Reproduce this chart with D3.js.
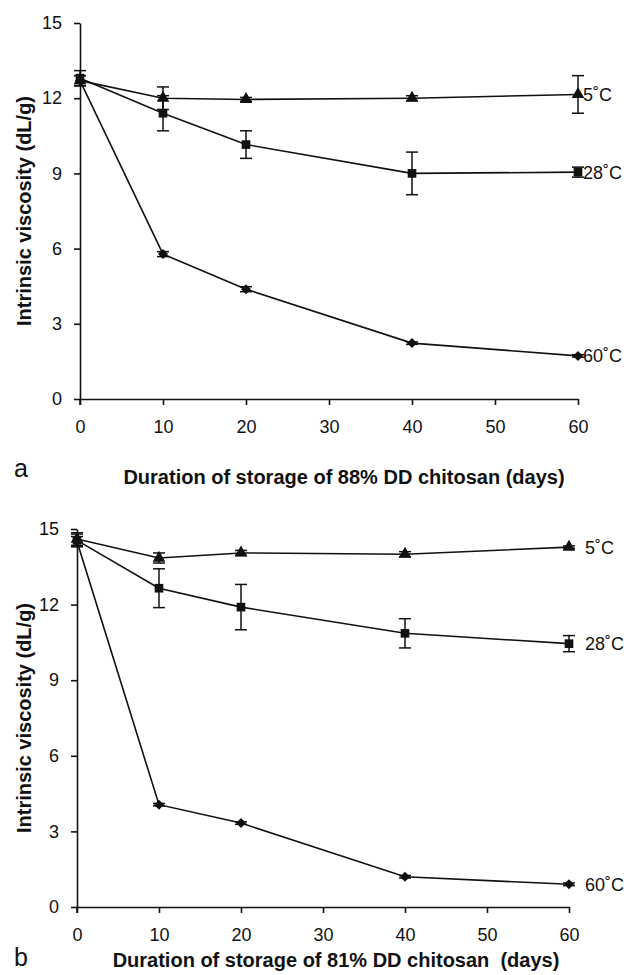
<!DOCTYPE html>
<html>
<head>
<meta charset="utf-8">
<script src="https://cdn.jsdelivr.net/npm/d3@7"></script>
<style>
  body { margin: 0; background: #fff; }
  svg { display: block; font-family: "Liberation Sans", Arial, sans-serif; }
</style>
</head>
<body>
<svg id="chart" width="624" height="975"></svg>
<script>
// storage days and axis ticks
var days = [0, 10, 20, 40, 60];
var xTicks = [0, 10, 20, 30, 40, 50, 60];
var yTicks = [0, 3, 6, 9, 12, 15];
var seriesLabels = ["5˚C", "28˚C", "60˚C"];

// panel a : 88% DD chitosan
var a5 = [12.7, 12.0, 11.95, 12.0, 12.15];
var a5err = [0.2, 0.45, 0.08, 0.1, 0.75];
var a28 = [12.8, 11.4, 10.15, 9.0, 9.05];
var a28err = [0.3, 0.7, 0.55, 0.85, 0.2];
var a60 = [12.7, 5.78, 4.38, 2.23, 1.72];
var a60err = [0.2, 0.1, 0.1, 0.05, 0.05];

// panel b : 81% DD chitosan
var b5 = [14.6, 13.85, 14.05, 14.0, 14.28];
var b5err = [0.25, 0.2, 0.1, 0.1, 0.05];
var b28 = [14.55, 12.65, 11.9, 10.86, 10.45];
var b28err = [0.25, 0.77, 0.9, 0.58, 0.32];
var b60 = [14.5, 4.06, 3.33, 1.2, 0.9];
var b60err = [0.2, 0.05, 0.05, 0.05, 0.05];

var svg = d3.select("#chart");
// triangle, square, diamond (square turned 45 degrees)
var symbols = [d3.symbolTriangle, d3.symbolSquare, d3.symbolSquare];
var symSizes = [70, 75, 50];
var symRotate = [0, 0, 45];

function drawPanel(opt) {
  var x = d3.scaleLinear().domain([0, 60]).range([opt.left, opt.right]);
  var y = d3.scaleLinear().domain([0, 15]).range([opt.bottom, opt.top]);
  var g = svg.append("g");

  // axes
  var xAxis = d3.axisBottom(x).tickValues(xTicks).tickSize(6).tickSizeOuter(0).tickPadding(15);
  var yAxis = d3.axisLeft(y).tickValues(yTicks).tickSize(6).tickSizeOuter(0).tickPadding(12);

  var gx = g.append("g").attr("transform", "translate(0," + opt.bottom + ")").call(xAxis);
  var gy = g.append("g").attr("transform", "translate(" + opt.left + ",0)").call(yAxis);
  [gx, gy].forEach(function(a) {
    a.selectAll("path, line").attr("stroke", "#111").attr("stroke-width", 1.6);
    a.selectAll("text").attr("font-size", 18).attr("fill", "#111")
      .attr("font-family", "'Liberation Sans', Arial, sans-serif");
  });
  // small stub of y axis below the x axis
  g.append("line")
    .attr("x1", opt.left).attr("x2", opt.left)
    .attr("y1", opt.bottom).attr("y2", opt.bottom + 6)
    .attr("stroke", "#111").attr("stroke-width", 1.6);

  var line = d3.line().x(function(d) { return x(d.day); }).y(function(d) { return y(d.v); });

  opt.series.forEach(function(s, i) {
    var pts = days.map(function(d, k) { return { day: d, v: s.values[k], e: s.err[k] }; });

    g.append("path")
      .attr("d", line(pts))
      .attr("fill", "none")
      .attr("stroke", "#111")
      .attr("stroke-width", 1.6);

    // error bars
    var eb = g.selectAll(null).data(pts).enter().append("g");
    eb.append("line")
      .attr("x1", function(d) { return x(d.day); })
      .attr("x2", function(d) { return x(d.day); })
      .attr("y1", function(d) { return y(d.v + d.e); })
      .attr("y2", function(d) { return y(d.v - d.e); })
      .attr("stroke", "#111").attr("stroke-width", 1.5);
    [1, -1].forEach(function(sg) {
      eb.append("line")
        .attr("x1", function(d) { return x(d.day) - 6; })
        .attr("x2", function(d) { return x(d.day) + 6; })
        .attr("y1", function(d) { return y(d.v + sg * d.e); })
        .attr("y2", function(d) { return y(d.v + sg * d.e); })
        .attr("stroke", "#111").attr("stroke-width", 1.5);
    });

    // markers
    g.selectAll(null).data(pts).enter().append("path")
      .attr("d", d3.symbol().type(symbols[i]).size(symSizes[i]))
      .attr("transform", function(d) {
        return "translate(" + x(d.day) + "," + y(d.v) + ") rotate(" + symRotate[i] + ")";
      })
      .attr("fill", "#111");

    // series label at end
    g.append("text")
      .attr("x", x(60) + opt.labelGap)
      .attr("y", y(s.values[s.values.length - 1]))
      .attr("dy", "0.36em")
      .attr("font-size", 18)
      .attr("fill", "#111")
      .text(seriesLabels[i]);
  });

  // axis titles
  g.append("text")
    .attr("transform", "translate(31," + ((opt.top + opt.bottom) / 2) + ") rotate(-90)")
    .attr("text-anchor", "middle")
    .attr("font-size", 20)
    .attr("font-weight", "bold")
    .attr("fill", "#111")
    .text("Intrinsic viscosity (dL/g)");

  g.append("text")
    .attr("x", opt.titleX)
    .attr("y", opt.titleY)
    .attr("text-anchor", "middle")
    .attr("font-size", 20)
    .attr("font-weight", "bold")
    .attr("fill", "#111")
    .style("white-space", "pre")
    .text(opt.title);

  g.append("text")
    .attr("x", 14)
    .attr("y", opt.letterY)
    .attr("font-size", 25)
    .attr("fill", "#111")
    .text(opt.letter);
}

drawPanel({
  left: 80, right: 578, top: 23, bottom: 399,
  labelGap: 5, titleX: 344, titleY: 484, letterY: 477, letter: "a",
  title: "Duration of storage of 88% DD chitosan (days)",
  series: [{ values: a5, err: a5err }, { values: a28, err: a28err }, { values: a60, err: a60err }]
});

drawPanel({
  left: 77, right: 569, top: 529, bottom: 907,
  labelGap: 16, titleX: 336, titleY: 967, letterY: 966, letter: "b",
  title: "Duration of storage of 81% DD chitosan  (days)",
  series: [{ values: b5, err: b5err }, { values: b28, err: b28err }, { values: b60, err: b60err }]
});
</script>
</body>
</html>
